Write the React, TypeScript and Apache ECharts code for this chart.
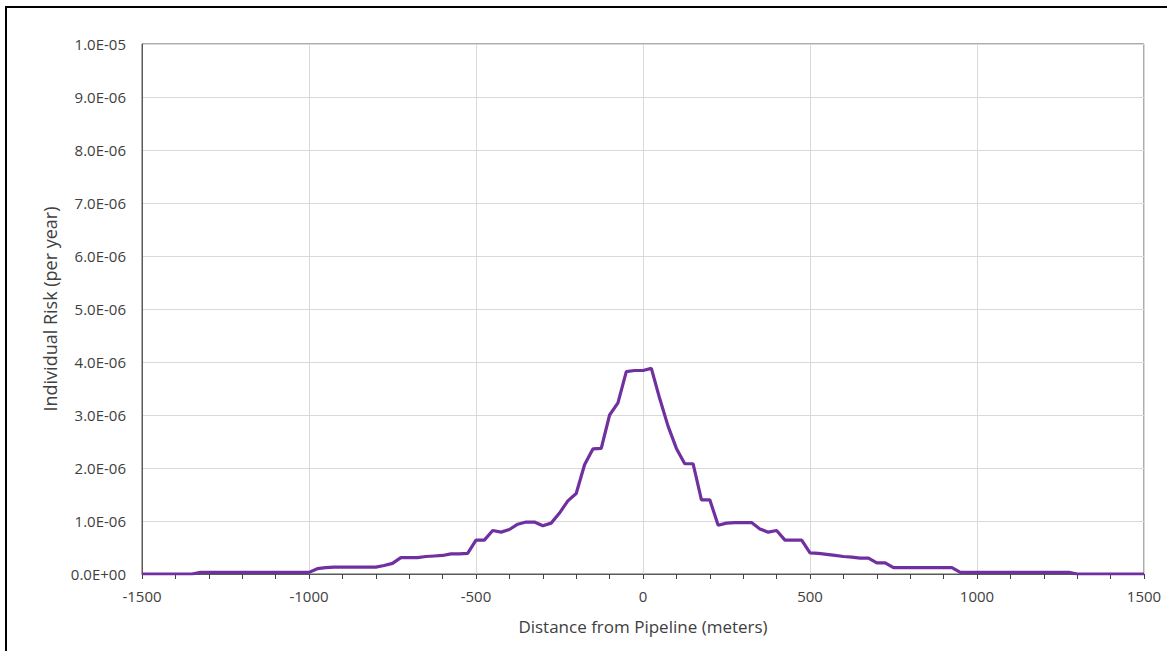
import React, { useEffect, useRef } from "react";
import * as echarts from "echarts";

const distances = [
  -1500, -1350, -1325, -1000, -975, -950, -925, -800, -775, -750, -725, -675, -650, -625, -600, -575, -550, -525,
  -500, -475, -450, -425, -400, -375, -350, -325, -300, -275, -250, -225, -200, -175, -150, -125, -100, -75, -50,
  -25, 0, 25, 50, 75, 100, 125, 150, 175, 200, 225, 250, 275, 300, 325, 350, 375, 400, 425, 450, 475, 500, 525,
  550, 575, 600, 625, 650, 675, 700, 725, 750, 925, 950, 1275, 1300, 1500,
];
// risk values in units of 1e-6 per year
const riskE6 = [
  0.0, 0.0, 0.03, 0.03, 0.1, 0.12, 0.13, 0.13, 0.16, 0.2, 0.31, 0.31, 0.33, 0.34, 0.35, 0.38, 0.38, 0.39,
  0.64, 0.64, 0.82, 0.79, 0.84, 0.94, 0.98, 0.98, 0.91, 0.96, 1.15, 1.38, 1.52, 2.06, 2.36, 2.37, 3.0, 3.23, 3.82,
  3.84, 3.84, 3.88, 3.31, 2.79, 2.37, 2.08, 2.08, 1.4, 1.4, 0.92, 0.96, 0.97, 0.97, 0.97, 0.85, 0.79, 0.82, 0.64,
  0.64, 0.64, 0.4, 0.39, 0.37, 0.35, 0.33, 0.32, 0.3, 0.3, 0.21, 0.21, 0.12, 0.12, 0.03, 0.03, 0.0, 0.0,
];

const xTitle = "Distance from Pipeline (meters)";
const yTitle = "Individual Risk (per year)";

function sci(v: number): string {
  if (v === 0) return "0.0E+00";
  const [m, e] = v.toExponential(1).split("e");
  const n = parseInt(e, 10);
  const sign = n < 0 ? "-" : "+";
  const abs = Math.abs(n);
  return m + "E" + sign + (abs < 10 ? "0" + abs : String(abs));
}

export default function App() {
  const ref = useRef<HTMLDivElement>(null);
  useEffect(() => {
    document.body.style.margin = "0";
    if (!ref.current) return;
    const chart = echarts.init(ref.current, null, { renderer: "svg" });
    const font = "Open Sans, Noto Sans, sans-serif";
    chart.setOption({
      animation: false,
      backgroundColor: "#ffffff",
      grid: {
        left: 142,
        right: 23,
        top: 44,
        bottom: 77,
        show: true,
        borderColor: "#595959",
        borderWidth: 1,
      },
      graphic: [
        {
          type: "line",
          shape: { x1: 6, y1: 7, x2: 6, y2: 660 },
          style: { stroke: "#000", lineWidth: 2 },
        },
        {
          type: "line",
          shape: { x1: 5, y1: 7, x2: 1170, y2: 7 },
          style: { stroke: "#000", lineWidth: 2 },
        },
      ],
      xAxis: {
        type: "value",
        min: -1500,
        max: 1500,
        interval: 500,
        name: xTitle,
        nameLocation: "middle",
        nameGap: 44,
        nameTextStyle: { color: "#404040", fontSize: 17, fontFamily: font },
        axisLine: { show: true, onZero: false, lineStyle: { color: "#595959", width: 1 } },
        axisTick: { show: true, length: 5, lineStyle: { color: "#404040" } },
        minorTick: { show: true, splitNumber: 5, length: 5, lineStyle: { color: "#404040" } },
        axisLabel: {
          color: "#404040",
          fontSize: 15,
          fontFamily: font,
          margin: 14,
          formatter: (v: number) => String(v),
        },
        splitLine: { show: true, lineStyle: { color: "#d9d9d9", width: 1 } },
      },
      yAxis: {
        type: "value",
        min: 0,
        max: 1e-5,
        interval: 1e-6,
        name: yTitle,
        nameLocation: "middle",
        nameGap: 83,
        nameTextStyle: { color: "#404040", fontSize: 18, fontFamily: font },
        axisLine: { show: true, onZero: false, lineStyle: { color: "#595959", width: 1 } },
        axisTick: { show: false },
        axisLabel: { color: "#404040", fontSize: 15, fontFamily: font, margin: 16, formatter: (v: number) => sci(v) },
        splitLine: { show: true, lineStyle: { color: "#d9d9d9", width: 1 } },
      },
      series: [
        {
          type: "line",
          data: distances.map((d, i) => [d, riskE6[i] * 1e-6]),
          showSymbol: false,
          symbol: "none",
          lineStyle: { color: "#7030A0", width: 3.2 },
          z: 5,
        },
      ],
    });
    return () => chart.dispose();
  }, []);
  return <div ref={ref} style={{ width: 1167, height: 651 }} />;
}
